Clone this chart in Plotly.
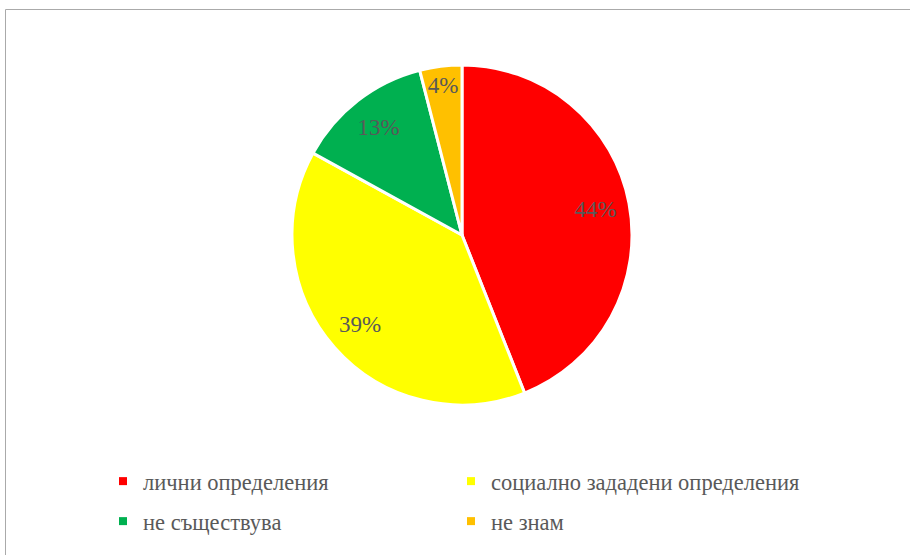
import plotly.graph_objects as go

categories = ["лични определения", "социално зададени определения", "не съществува", "не знам"]
values = [44, 39, 13, 4]
colors = ["#FF0000", "#FFFF00", "#00B050", "#FFC000"]

W, H = 910, 555
cx, cy, r = 462, 235, 170
FONT = "Liberation Serif, Times New Roman, serif"
domain = dict(x=[(cx - r) / W, (cx + r) / W], y=[1 - (cy + r) / H, 1 - (cy - r) / H])

fig = go.Figure()
# slices
fig.add_trace(go.Pie(
    labels=categories, values=values, sort=False, direction="clockwise", rotation=0,
    marker=dict(colors=colors, line=dict(color="white", width=3)),
    textinfo="none", showlegend=False, hoverinfo="label+percent", domain=domain,
))
# transparent ring carrying the data labels near the outer edge
fig.add_trace(go.Pie(
    labels=categories, values=values, sort=False, direction="clockwise", rotation=0,
    hole=0.6, marker=dict(colors=["rgba(0,0,0,0)"] * len(values), line=dict(width=0)),
    texttemplate="%{value}%", textposition="inside", insidetextorientation="horizontal",
    textfont=dict(family=FONT, size=23, color="#595959"),
    showlegend=False, hoverinfo="skip", domain=domain,
))

legend_names = ["legend", "legend2", "legend3", "legend4"]
for name, col, lg in zip(categories, colors, legend_names):
    fig.add_trace(go.Scatter(x=[None], y=[None], mode="markers", name=name, legend=lg,
                             marker=dict(symbol="square", size=8, color=col)))

leg = dict(orientation="h", xanchor="left", yanchor="top",
           font=dict(family=FONT, size=22.5, color="#595959"), bgcolor="rgba(0,0,0,0)")
col_x = [103 / W, 451 / W]
row_y = [1 - 460 / H, 1 - 500 / H]
fig.update_layout(
    width=W, height=H, margin=dict(l=0, r=0, t=0, b=0),
    paper_bgcolor="white", plot_bgcolor="white",
    xaxis=dict(visible=False), yaxis=dict(visible=False),
    uniformtext=dict(minsize=23, mode="show"),
    legend=dict(leg, x=col_x[0], y=row_y[0]),
    legend2=dict(leg, x=col_x[1], y=row_y[0]),
    legend3=dict(leg, x=col_x[0], y=row_y[1]),
    legend4=dict(leg, x=col_x[1], y=row_y[1]),
    shapes=[dict(type="rect", xref="paper", yref="paper", x0=5.5 / W, y0=-0.02, x1=1.02, y1=1 - 9.5 / H,
                 line=dict(color="#aaaaaa", width=1))],
)
fig.write_html("out.html", config={"displayModeBar": False},
               post_script="document.body.style.margin='0';document.body.style.overflow='hidden';")
